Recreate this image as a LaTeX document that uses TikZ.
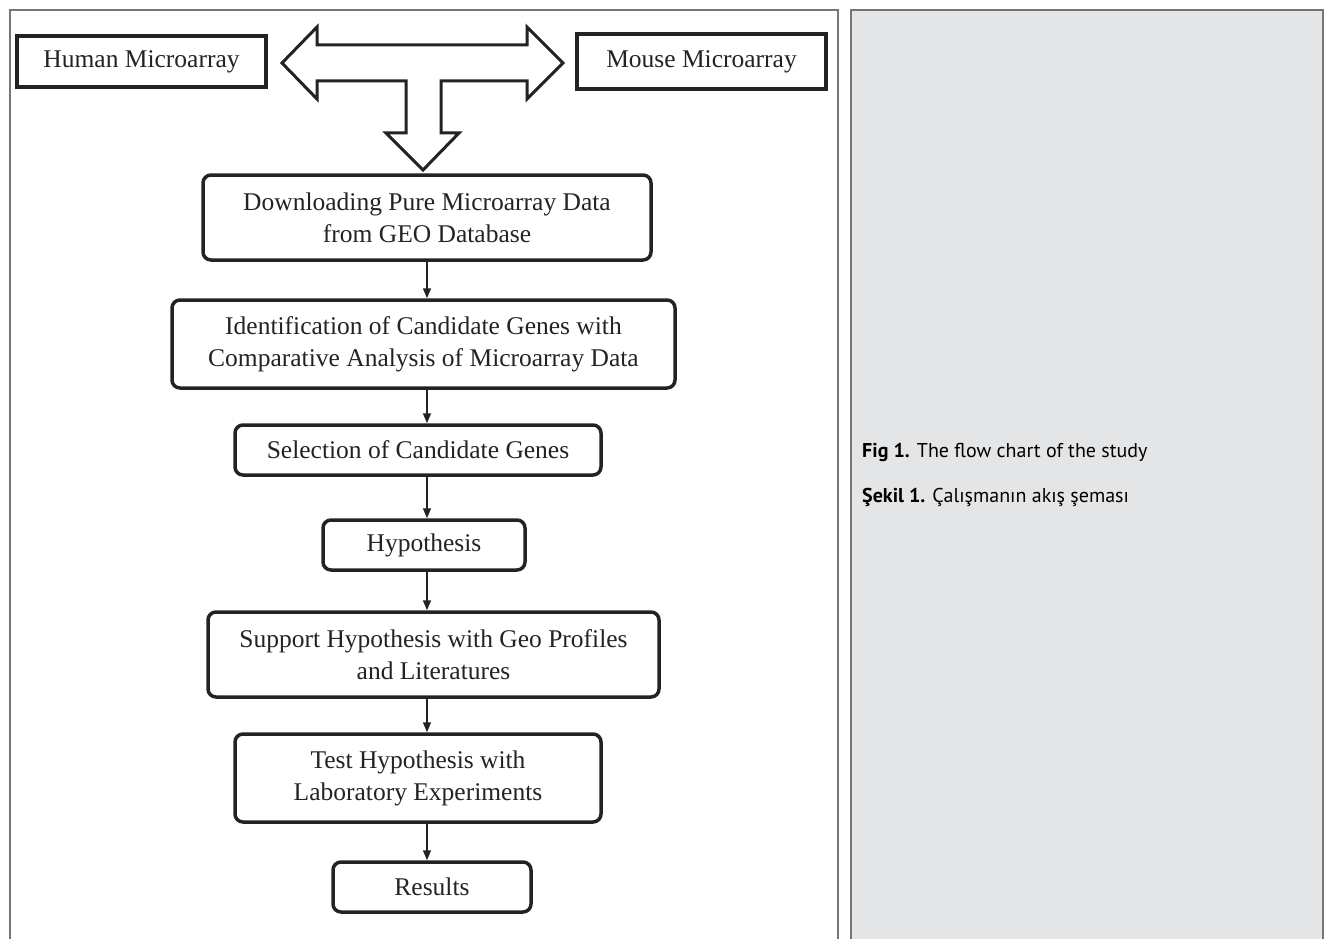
\documentclass[tikz,border=0pt]{standalone}
\usepackage{fontspec}
\setmainfont{Liberation Serif}
\newfontfamily\capfont{PT Sans}
\usetikzlibrary{arrows.meta, positioning}
\definecolor{rahmen}{RGB}{118,118,118}
\definecolor{kasten}{RGB}{35,35,35}
\definecolor{grau}{RGB}{228,229,231}

\begin{document}
\begin{tikzpicture}[x=1pt, y=-1pt, >={Triangle[length=10pt,width=8pt]},
	flow/.style={draw=kasten, line width=3.5pt, rounded corners=8pt, align=center, inner sep=0pt, text=kasten, font=\fontsize{25.5}{32}\selectfont},
	source/.style={draw=kasten, line width=4pt, inner sep=0pt, text=kasten, font=\fontsize{25.5}{32}\selectfont},
	pfeil/.style={->, kasten, line width=1.5pt}]

	\useasboundingbox (0,0) rectangle (1330,939);

	% two panels
	\draw[rahmen, line width=1.5pt] (10,950) -- (10,10) -- (838,10) -- (838,950);
	\draw[rahmen, line width=1.5pt, fill=grau] (851,950) -- (851,10) -- (1323,10) -- (1323,950);

	\node[source, minimum width=249pt, minimum height=51pt] (human) at (141.5,61.5) {Human Microarray};
	\node[source, minimum width=249pt, minimum height=55pt] (mouse) at (701.5,61.5) {Mouse Microarray};

	% T-shaped block arrow
	\draw[kasten, line width=3pt, fill=white] (282,63) -- (317,27) -- (317,45) -- (527,45) -- (527,27) -- (563,63) -- (527,99) -- (527,81) -- (441,81) -- (441,133) -- (459,133) -- (423,170) -- (386,133) -- (406,133) -- (406,81) -- (317,81) -- (317,99) -- cycle;

	\node[flow, minimum width=448pt, minimum height=85pt] (download) at (427,217.5) {Downloading Pure Microarray Data\\from GEO Database};
	\node[flow, minimum width=503pt, minimum height=88pt] (ident) at (423.5,344) {Identification of Candidate Genes with\\Comparative Analysis of Microarray Data};
	\node[flow, minimum width=366pt, minimum height=50pt] (select) at (418,450) {Selection of Candidate Genes};
	\node[flow, minimum width=202pt, minimum height=50pt] (hypo) at (424,545) {Hypothesis};
	\node[flow, minimum width=451pt, minimum height=85pt] (support) at (433.5,654.5) {Support Hypothesis with Geo Profiles\\and Literatures};
	\node[flow, minimum width=366pt, minimum height=88pt] (test) at (418,778) {Test Hypothesis with\\Laboratory Experiments};
	\node[flow, minimum width=198pt, minimum height=50pt] (results) at (432,887) {Results};

	\draw[pfeil] ([xshift=0pt]download.south) -- (download.south |- ident.north);
	\draw[pfeil] ([xshift=3.5pt]ident.south) -- ([xshift=3.5pt]ident.south |- select.north);
	\draw[pfeil] ([xshift=9pt]select.south) -- ([xshift=9pt]select.south |- hypo.north);
	\draw[pfeil] ([xshift=3pt]hypo.south) -- ([xshift=3pt]hypo.south |- support.north);
	\draw[pfeil] ([xshift=-6.5pt]support.south) -- ([xshift=-6.5pt]support.south |- test.north);
	\draw[pfeil] ([xshift=9pt]test.south) -- ([xshift=9pt]test.south |- results.north);

	% caption
	\node[anchor=west, inner sep=0pt, font=\capfont\fontsize{20}{24}\selectfont] (fig) at (862,452) {\textbf{Fig 1.} The flow chart of the study};
	\node[anchor=west, inner sep=0pt, font=\capfont\fontsize{20}{24}\selectfont] (sekil) at (862,497) {\textbf{Şekil 1.} Çalışmanın akış şeması};

\end{tikzpicture}
\end{document}
